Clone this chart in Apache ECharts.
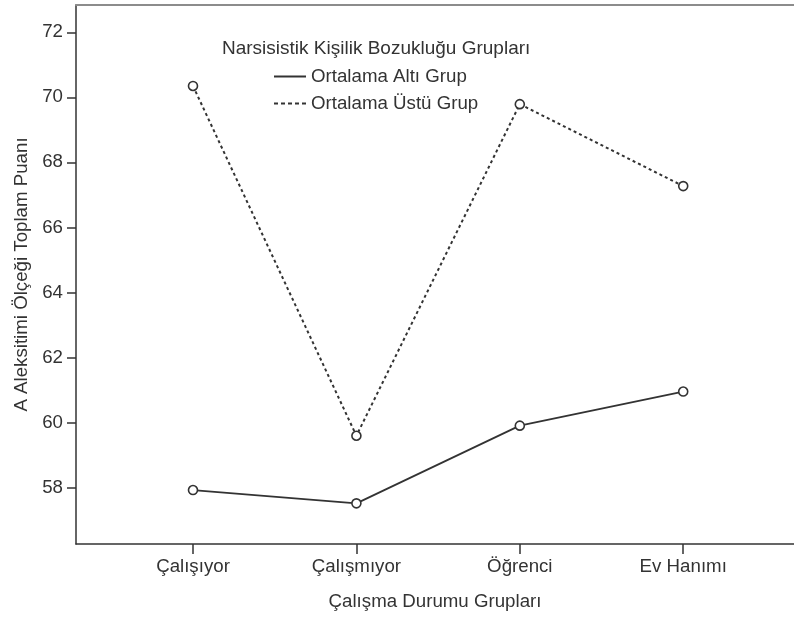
<!DOCTYPE html>
<html>
<head>
<meta charset="utf-8">
<script src="https://cdn.jsdelivr.net/npm/echarts@6/dist/echarts.min.js"></script>
<style>html,body{margin:0;padding:0;background:#fff}#c{width:794px;height:619px}</style>
</head>
<body>
<div id="c"></div>
<script>
const categories = ['Çalışıyor', 'Çalışmıyor', 'Öğrenci', 'Ev Hanımı'];
const altiGrup = [57.92, 57.51, 59.90, 60.95];
const ustuGrup = [70.35, 59.59, 69.79, 67.27];
const yTicks = [58, 60, 62, 64, 66, 68, 70, 72];
const seriesNames = ['Ortalama Altı Grup', 'Ortalama Üstü Grup'];
const legendTitle = 'Narsisistik Kişilik Bozukluğu Grupları';
const yTitle = 'A Aleksitimi Ölçeği Toplam Puanı';
const xTitle = 'Çalışma Durumu Grupları';

const FONT = 'Liberation Sans, Arial, sans-serif';
const FS = 18.7;
const TXT = '#333';
const chart = echarts.init(document.getElementById('c'), null, {renderer: 'canvas'});
const xIdx = categories.map((c, i) => i);
const toPts = arr => arr.map((v, i) => [xIdx[i], v]);

chart.setOption({
  animation: false,
  backgroundColor: '#fff',
  textStyle: {fontFamily: FONT},
  title: {
    text: legendTitle,
    left: 222, top: 39,
    padding: 0,
    textStyle: {fontFamily: FONT, fontSize: 19, fontWeight: 'normal', color: TXT}
  },
  legend: {
    orient: 'vertical',
    left: 274, top: 66,
    padding: 0,
    itemGap: 6,
    itemWidth: 32, itemHeight: 2,
    textStyle: {fontFamily: FONT, fontSize: FS, color: TXT, lineHeight: 21},
    data: [
      {name: seriesNames[0], icon: 'path://M0,0h32v2h-32z'},
      {name: seriesNames[1], icon: 'path://M0,0h4v2h-4z M7,0h4v2h-4z M14,0h4v2h-4z M21,0h4v2h-4z M28,0h4v2h-4z'}
    ],
    itemStyle: {color: '#333', borderWidth: 0}
  },
  grid: {left: 76, right: 0, top: 5, bottom: 75, containLabel: false},
  xAxis: [{
    type: 'value',
    min: -0.716, max: 3.678,
    position: 'bottom',
    name: xTitle,
    nameLocation: 'middle',
    nameGap: 48,
    nameTextStyle: {fontFamily: FONT, fontSize: FS, color: TXT},
    splitLine: {show: false},
    axisLine: {show: true, onZero: false, lineStyle: {color: '#333', width: 1.5}},
    axisTick: {show: true, length: 10, customValues: xIdx, lineStyle: {color: '#333', width: 1.5}},
    axisLabel: {customValues: xIdx, margin: 13, fontFamily: FONT, fontSize: FS, color: TXT,
      formatter: v => categories[Math.round(v)]}
  }, {
    type: 'value',
    min: -0.716, max: 3.678,
    position: 'top',
    splitLine: {show: false},
    axisLine: {show: true, onZero: false, lineStyle: {color: '#8c8c8c', width: 2}},
    axisTick: {show: false},
    axisLabel: {show: false}
  }],
  yAxis: {
    type: 'value',
    min: 56.26, max: 72.84,
    name: yTitle,
    nameLocation: 'middle',
    nameGap: 44,
    nameTextStyle: {fontFamily: FONT, fontSize: FS, color: TXT},
    splitLine: {show: false},
    axisLine: {show: true, onZero: false, lineStyle: {color: '#333', width: 1.5}},
    axisTick: {show: true, length: 9, customValues: yTicks, lineStyle: {color: '#333', width: 1.5}},
    axisLabel: {customValues: yTicks, margin: 13, fontFamily: FONT, fontSize: FS, color: TXT,
      formatter: v => String(Math.round(v))}
  },
  series: [{
    name: seriesNames[0],
    type: 'line',
    xAxisIndex: 0,
    data: toPts(altiGrup),
    symbol: 'circle',
    symbolSize: 9,
    color: '#333',
    lineStyle: {color: '#333', width: 1.8, type: 'solid'},
    itemStyle: {color: '#fff', borderColor: '#333', borderWidth: 1.6},
    z: 3
  }, {
    name: seriesNames[1],
    type: 'line',
    xAxisIndex: 0,
    data: toPts(ustuGrup),
    symbol: 'circle',
    symbolSize: 9,
    color: '#333',
    lineStyle: {color: '#333', width: 2, type: [3, 3]},
    itemStyle: {color: '#fff', borderColor: '#333', borderWidth: 1.6},
    z: 3
  }]
});
</script>
</body>
</html>
